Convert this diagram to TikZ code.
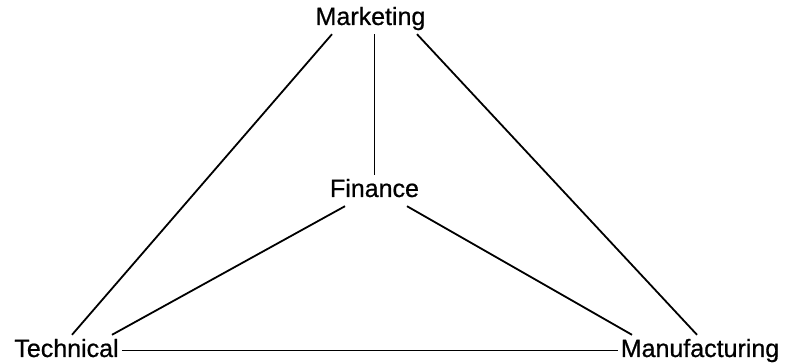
\documentclass[tikz,border=0pt]{standalone}
\usepackage{fontspec}
\newfontfamily\deptfont[FakeBold=0.7]{Liberation Sans}
\tikzset{dept/.style={inner xsep=3pt,inner ysep=4pt,text height=18pt,text depth=5pt,
  font=\deptfont\fontsize{25}{30}\selectfont},
  link/.style={line width=1.8pt}}

\begin{document}
\begin{tikzpicture}[x=1pt,y=1pt]
\useasboundingbox (0,0) rectangle (786,363);
\node[dept] (mkt) at (370.5,344.5) {Marketing};
\node[dept] (fin) at (374.5,172.5) {Finance};
\node[dept] (tech) at (66.5,12.5) {Technical};
\node[dept] (manu) at (700,12.5) {Manufacturing};
% outer triangle
\draw[link] ([xshift=-38.5pt]mkt.south) -- ([xshift=5.5pt]tech.north);
\draw[link] ([xshift=46.5pt]mkt.south) -- ([xshift=-3pt]manu.north);
\draw[link] (tech) -- (manu);
% spokes to the middle
\draw[link] (fin.north) -- (fin.north |- mkt.south);
\draw[link] ([xshift=-29.5pt]fin.south) -- ([xshift=45.5pt]tech.north);
\draw[link] ([xshift=32.5pt]fin.south) -- ([xshift=-68pt]manu.north);
\end{tikzpicture}
\end{document}
